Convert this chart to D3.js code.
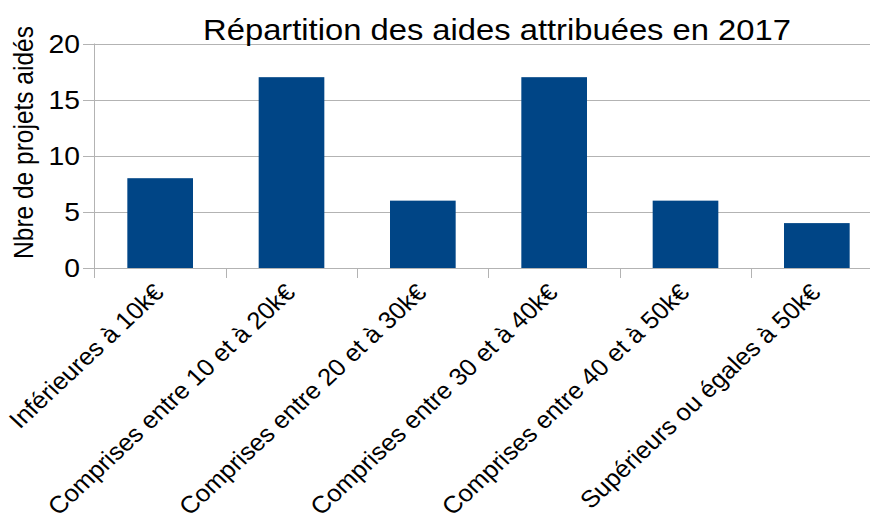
<!DOCTYPE html>
<html>
<head>
<meta charset="utf-8">
<script src="https://cdn.jsdelivr.net/npm/d3@7"></script>
<style>
  body { margin: 0; background: #fff; }
  text { font-family: "Liberation Sans", Arial, sans-serif; fill: #000; }
</style>
</head>
<body>
<div id="chart"></div>
<script>
var width = 870, height = 525;

var categories = [
	"Inférieures à 10k€",
	"Comprises entre 10 et à 20k€",
	"Comprises entre 20 et à 30k€",
	"Comprises entre 30 et à 40k€",
	"Comprises entre 40 et à 50k€",
	"Supérieurs ou égales à 50k€"
];
var values = [8, 17, 6, 17, 6, 4];
var yTicks = [0, 5, 10, 15, 20];

var margin = {left: 94.5, top: 43.5, bottom: 268};
var plotRight = 882.5;
// the reference is a bit wider than tall, text looks stretched sideways
var sx = 1.11;
var sxLab = 1.07;

var svg = d3.select('#chart').append('svg')
	.attr('width', width)
	.attr('height', height)
	.style('background-color', 'white');

var x = d3.scaleBand()
	.domain(categories)
	.range([margin.left, plotRight])
	.paddingInner(0.5)
	.paddingOuter(0.25);

var y = d3.scaleLinear()
	.domain([0, 20])
	.range([margin.bottom, margin.top]);

// gridlines
svg.selectAll("line.grid")
	.data(yTicks)
	.enter().append("line")
	.attr("class", "grid")
	.attr("x1", 83).attr("x2", plotRight)
	.attr("y1", function(d) { return Math.round(y(d)) + 0.5; })
	.attr("y2", function(d) { return Math.round(y(d)) + 0.5; })
	.style("stroke", "#b3b3b3")
	.style("stroke-width", 1);

// bars
svg.selectAll("rect")
	.data(values)
	.enter().append("rect")
	.attr("x", function(d, i) { return x(categories[i]); })
	.attr("y", function(d) { return y(d); })
	.attr("width", x.bandwidth())
	.attr("height", function(d) { return y(0) - y(d); })
	.style("fill", "#004586");

// y axis line
svg.append("line")
	.attr("x1", margin.left).attr("x2", margin.left)
	.attr("y1", margin.top).attr("y2", 278)
	.style("stroke", "#b3b3b3");

// category ticks
var step = x.step();
svg.selectAll("line.ctick")
	.data(categories)
	.enter().append("line")
	.attr("class", "ctick")
	.attr("x1", function(d) { return Math.round(x(d) - step * 0.25) + 0.5; })
	.attr("x2", function(d) { return Math.round(x(d) - step * 0.25) + 0.5; })
	.attr("y1", margin.bottom).attr("y2", 278)
	.style("stroke", "#b3b3b3");

// y tick labels
svg.selectAll("text.ytick")
	.data(yTicks)
	.enter().append("text")
	.attr("class", "ytick")
	.attr("transform", function(d) {
		return "translate(80," + y(d) + ") scale(" + sx + ",1)";
	})
	.attr("dy", "0.36em")
	.attr("text-anchor", "end")
	.style("font-size", "25.5px")
	.text(function(d) { return d; });

// category labels
svg.selectAll("text.xlab")
	.data(categories)
	.enter().append("text")
	.attr("class", "xlab")
	.attr("text-anchor", "end")
	.attr("transform", function(d) {
		var cx = x(d) + x.bandwidth() / 2 + 5;
		return "translate(" + cx + ",294) scale(" + sxLab + ",1) rotate(-45)";
	})
	.style("font-size", "24px")
	.text(function(d) { return d; });

// y axis title
svg.append("text")
	.attr("transform", "translate(33,142.5) scale(" + sx + ",1) rotate(-90)")
	.attr("text-anchor", "middle")
	.style("font-size", "24.5px")
	.text("Nbre de projets aidés");

// title
svg.append("text")
	.attr("transform", "translate(497,39.5) scale(" + sx + ",1)")
	.attr("text-anchor", "middle")
	.style("font-size", "29.5px")
	.text("Répartition des aides attribuées en 2017");
</script>
</body>
</html>
